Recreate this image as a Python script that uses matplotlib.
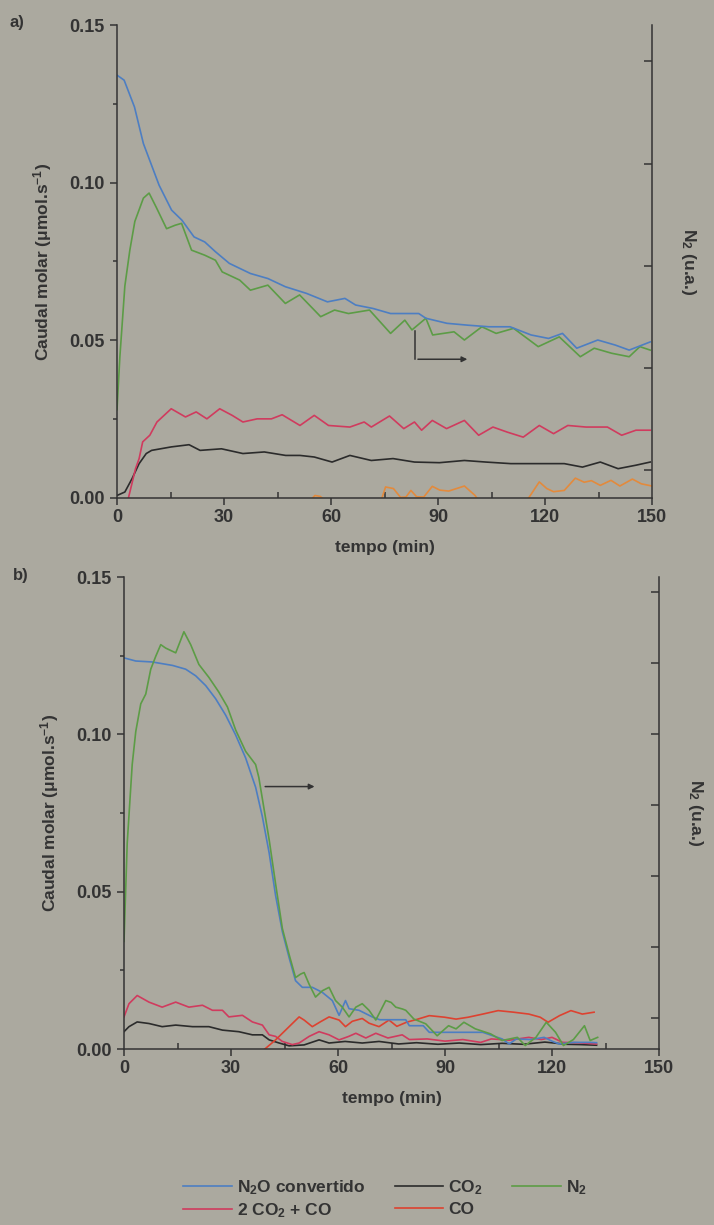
import matplotlib
matplotlib.use("Agg")
import matplotlib.pyplot as plt
from matplotlib.lines import Line2D
from matplotlib.ticker import MultipleLocator

plt.rcParams['font.family'] = ['Liberation Sans', 'DejaVu Sans']
plt.rcParams['font.weight'] = 'bold'
plt.rcParams['axes.labelweight'] = 'bold'
plt.rcParams['mathtext.fontset'] = 'custom'
plt.rcParams['mathtext.default'] = 'regular'

# ---- panel a) data (tempo em min, caudal molar em umol/s)
a_n2o_t = [0, 2.0, 4.9, 7.4, 11.8, 15.3, 18.2, 21.6, 24.6, 27.6, 31.5, 37.4, 42.3, 47.2,
           53.1, 59.0, 63.9, 66.9, 71.8, 76.7, 84.6, 86.6, 92.5, 98.4, 104.3, 110.2,
           116.1, 121.0, 124.9, 128.9, 134.8, 139.7, 143.6, 149.5]
a_n2o = [.1341, .1325, .1240, .1124, .0992, .0913, .0881, .0828, .0812, .0781, .0744,
         .0712, .0696, .0670, .0649, .0622, .0633, .0612, .0601, .0585, .0585, .0570,
         .0554, .0548, .0543, .0543, .0517, .0506, .0522, .0475, .0501, .0485, .0469, .0495]

a_n2_t = [0, 0.8, 2.2, 3.6, 5.0, 7.4, 9.0, 11.0, 13.9, 16.3, 18.1, 20.9, 24.6, 27.6, 29.5,
          34.4, 37.4, 42.3, 47.2, 51.2, 57.1, 61.0, 64.9, 70.8, 76.7, 80.7, 82.7, 86.6,
          88.5, 94.5, 97.4, 102.3, 106.3, 111.2, 118.1, 124.0, 129.9, 133.8, 138.7,
          143.6, 146.6, 149.5]
a_n2 = [.0280, .0447, .0672, .0786, .0877, .0951, .0967, .0922, .0854, .0865, .0871,
        .0786, .0770, .0754, .0717, .0691, .0659, .0675, .0617, .0644, .0575, .0596,
        .0585, .0596, .0522, .0564, .0533, .0570, .0517, .0527, .0501, .0543, .0522,
        .0538, .0480, .0511, .0448, .0475, .0459, .0448, .0480, .0469]

a_sum_t = [3.2, 5.2, 6.2, 7.2, 9.2, 11.2, 13.2, 15.2, 19.2, 22.2, 25.2, 28.8, 32.3, 35.3,
           39.3, 43.3, 46.3, 51.3, 55.3, 59.3, 65.3, 69.3, 71.3, 76.4, 80.4, 83.4, 85.4,
           88.4, 92.4, 97.4, 101.4, 105.4, 109.4, 113.9, 118.4, 122.4, 126.4, 131.5,
           137.5, 141.5, 145.5, 149.5]
a_sum = [0, .0093, .0125, .0178, .0199, .0241, .0262, .0283, .0257, .0273, .0251, .0283,
         .0262, .0241, .0251, .0251, .0264, .0230, .0262, .0230, .0225, .0241, .0225,
         .0260, .0220, .0241, .0215, .0246, .0220, .0246, .0199, .0225, .0209, .0193,
         .0230, .0204, .0230, .0225, .0225, .0199, .0215, .0215]

a_co2_t = [0, 2.2, 4.2, 6.2, 8.2, 9.7, 15.2, 20.2, 23.3, 29.3, 35.3, 41.3, 47.3, 51.3,
           55.3, 60.3, 65.3, 71.3, 77.4, 83.4, 90.4, 97.4, 103.4, 110.4, 117.4, 125.4,
           130.5, 135.5, 140.5, 145.5, 149.5]
a_co2 = [.0008, .0019, .0061, .0109, .0141, .0151, .0162, .0169, .0151, .0156, .0141,
         .0146, .0135, .0135, .0130, .0114, .0135, .0119, .0125, .0114, .0112, .0119,
         .0114, .0109, .0109, .0109, .0098, .0114, .0093, .0104, .0114]

a_co_t = [0, 50, 54, 55.5, 57, 58.5, 62, 74, 75.3, 77.5, 79.5, 81, 82.4, 84, 86, 88.4,
          90.5, 93, 97.4, 100.4, 102, 113, 115.4, 118.4, 120.5, 122.4, 125.4, 128.5,
          131, 133, 135.5, 138.5, 141, 144.5, 147, 150]
a_co = [-.003, -.003, -.001, .0008, .0005, -.001, -.003, -.001, .0035, .0030, .0002,
        .0003, .0024, .0004, .0003, .0037, .0025, .0022, .0038, .0008, -.002, -.002,
        .0000, .0051, .0030, .0020, .0024, .0063, .0050, .0055, .0040, .0056, .0038,
        .0060, .0045, .0038]

# ---- panel b) data
b_n2o_t = [0, 3.3, 7.9, 13.6, 17.3, 20.1, 22.9, 25.7, 28.5, 31.3, 34.1, 36.9, 38.8, 40.7,
           42.5, 44.4, 46.3, 48.1, 50.0, 52.8, 55.6, 58.4, 60.3, 62.1, 63.1, 65.9, 69.6,
           71.7, 79.0, 80.0, 83.9, 85.6, 100.6, 106.0, 108.0, 110.0, 114.0, 117.8, 120.0,
           122.0, 126.0, 130.7, 132.5]
b_n2o = [.1243, .1233, .1230, .1219, .1207, .1186, .1155, .1113, .1061, .0998, .0925,
         .0832, .0738, .0623, .0488, .0373, .0290, .0217, .0196, .0196, .0180, .0154,
         .0107, .0154, .0128, .0123, .0102, .0093, .0093, .0074, .0074, .0053, .0053,
         .0032, .0016, .0032, .0030, .0037, .0025, .0016, .0021, .0021, .0020]

b_n2_t = [0, 0.9, 2.3, 3.3, 4.7, 6.1, 7.5, 8.9, 10.3, 11.7, 14.5, 16.8, 18.7, 21.0, 23.8,
          26.6, 29.0, 31.3, 34.1, 36.9, 37.8, 40.7, 42.5, 44.4, 46.3, 48.1, 49.5, 50.5,
          51.9, 53.7, 55.6, 57.5, 59.3, 61.2, 63.1, 65.0, 66.8, 68.7, 70.6, 73.4, 74.9,
          76.2, 78.1, 79.0, 81.3, 84.6, 87.8, 91.0, 93.1, 95.3, 98.5, 102.8, 106.0,
          110.3, 112.5, 115.5, 118.4, 121.0, 123.2, 126.0, 129.1, 130.7, 132.8]
b_n2 = [.0342, .0654, .0904, .1009, .1097, .1128, .1207, .1248, .1285, .1274, .1259,
        .1326, .1285, .1222, .1181, .1134, .1087, .1014, .0946, .0904, .0863, .0665,
        .0525, .0383, .0300, .0227, .0238, .0243, .0206, .0165, .0185, .0196, .0154,
        .0133, .0102, .0133, .0144, .0123, .0092, .0154, .0148, .0133, .0127, .0123,
        .0095, .0080, .0042, .0074, .0064, .0085, .0064, .0048, .0027, .0037, .0011,
        .0037, .0085, .0053, .0011, .0030, .0074, .0027, .0037]

b_sum_t = [0, 1.4, 3.7, 7.0, 10.7, 14.5, 18.2, 22.0, 24.8, 27.6, 29.4, 33.2, 36.0, 38.8,
           40.7, 42.5, 44.4, 47.2, 49.1, 51.9, 54.7, 57.5, 60.3, 63.0, 65.0, 67.8, 70.6,
           74.0, 78.0, 80.0, 85, 90, 95, 100, 103, 108, 113.5, 117, 120, 123, 127, 132.5]
b_sum = [.0102, .0144, .0170, .0149, .0133, .0149, .0133, .0139, .0123, .0123, .0102,
         .0107, .0086, .0076, .0045, .0040, .0024, .0014, .0019, .0040, .0055, .0045,
         .0029, .0040, .0050, .0035, .0050, .0035, .0045, .0030, .0032, .0025, .0030,
         .0021, .0032, .0028, .0037, .0030, .0037, .0021, .0020, .0016]

b_co2_t = [0, 1.4, 3.7, 7.0, 10.7, 14.5, 19.2, 23.8, 27.6, 32.2, 36.0, 38.8, 40.7, 43.5,
           46.3, 50.5, 54.7, 57.5, 62, 66.8, 71.5, 77, 82, 88, 94, 100, 106, 112, 118,
           124, 128, 132.5]
b_co2 = [.0055, .0071, .0086, .0081, .0071, .0076, .0071, .0071, .0060, .0055, .0045,
         .0045, .0029, .0019, .0010, .0013, .0029, .0019, .0024, .0019, .0024, .0016,
         .0020, .0015, .0019, .0014, .0018, .0015, .0022, .0015, .0014, .0012]

b_co_t = [39.5, 42.5, 44.4, 47.2, 49.1, 50.5, 52.8, 55.0, 57.5, 60.3, 62.1, 64.0, 66.8,
          68.7, 71.5, 74.3, 76.5, 79.2, 82.4, 85.6, 89.9, 93.1, 96.5, 100.6, 104.9,
          109.2, 113.5, 116.7, 118.9, 122.1, 125.3, 128.5, 131.8]
b_co = [0, .0029, .0050, .0081, .0102, .0092, .0071, .0086, .0102, .0092, .0071, .0088,
        .0097, .0082, .0071, .0092, .0072, .0085, .0095, .0106, .0101, .0095, .0101,
        .0111, .0122, .0117, .0111, .0101, .0085, .0106, .0122, .0111, .0117]

bg = '#aba99f'
ink = '#333333'
c_blue = '#4d7ec2'
c_green = '#5c9c46'
c_pink = '#d03b5e'
c_black = '#2b2b2b'
c_orange = '#e38a3c'
c_red = '#dd4230'
lw = 1.2

fig = plt.figure(figsize=(7.14, 12.25), dpi=100, facecolor=bg)


def setup(ax, right_lim):
    ax.set_facecolor('none')
    ax.set_xlim(0, 150)
    ax.set_ylim(0, 0.15)
    ax.xaxis.set_major_locator(MultipleLocator(30))
    ax.xaxis.set_minor_locator(MultipleLocator(15))
    ax.yaxis.set_major_locator(MultipleLocator(0.05))
    ax.yaxis.set_minor_locator(MultipleLocator(0.025))
    ax.yaxis.set_major_formatter(lambda v, p: '%.2f' % v)
    ax.spines['top'].set_visible(False)
    ax.spines['right'].set_visible(False)
    for s in ['left', 'bottom']:
        ax.spines[s].set_color(ink)
        ax.spines[s].set_linewidth(1.1)
    ax.tick_params(axis='both', which='major', length=5, width=1.1, color=ink,
                   labelsize=13, labelcolor=ink)
    ax.tick_params(axis='y', which='major', pad=4)
    ax.tick_params(axis='x', which='major', pad=3)
    ax.tick_params(axis='y', which='minor', length=3, width=1.1, color=ink)
    ax.tick_params(axis='x', which='minor', direction='in', length=4, width=1.1, color=ink)
    ax.set_xlabel('tempo (min)', fontsize=12.5, color=ink, labelpad=10)
    ax.set_ylabel(r'Caudal molar ($\mu$mol.s$^{-1}$)', fontsize=12.5, color=ink, labelpad=11)
    tw = ax.twinx()
    tw.set_facecolor('none')
    tw.set_ylim(*right_lim)
    tw.yaxis.set_major_locator(MultipleLocator(1))
    tw.tick_params(axis='y', direction='in', length=6, width=1.1, color=ink, labelright=False)
    for s in ['top', 'left', 'bottom']:
        tw.spines[s].set_visible(False)
    tw.spines['right'].set_color(ink)
    tw.spines['right'].set_linewidth(1.1)
    tw.set_ylabel(r'N$_2$ (u.a.)', fontsize=12.5, color=ink, rotation=-90, labelpad=33)
    return ax


ax1 = setup(fig.add_axes([117 / 714, 1 - 498 / 1225, 535 / 714, 473 / 1225]), (-0.273, 4.357))
ax1.plot(a_co_t, a_co, color=c_orange, lw=lw)
ax1.plot(a_co2_t, a_co2, color=c_black, lw=lw)
ax1.plot(a_sum_t, a_sum, color=c_pink, lw=lw)
ax1.plot(a_n2_t, a_n2, color=c_green, lw=lw)
ax1.plot(a_n2o_t, a_n2o, color=c_blue, lw=lw)
ax1.plot([83.6, 83.6], [0.053, 0.044], color=ink, lw=1.1)
ax1.annotate('', xy=(99, 0.044), xytext=(83.6, 0.044),
             arrowprops=dict(arrowstyle='-|>', color=ink, lw=1.1, mutation_scale=8))

ax2 = setup(fig.add_axes([124 / 714, 1 - 1049 / 1225, 535 / 714, 472 / 1225]), (-0.44, 6.21))
ax2.plot(b_co2_t, b_co2, color=c_black, lw=lw)
ax2.plot(b_sum_t, b_sum, color=c_pink, lw=lw)
ax2.plot(b_co_t, b_co, color=c_red, lw=lw)
ax2.plot(b_n2o_t, b_n2o, color=c_blue, lw=lw)
ax2.plot(b_n2_t, b_n2, color=c_green, lw=lw)
ax2.annotate('', xy=(54.2, 0.0834), xytext=(38.8, 0.0834),
             arrowprops=dict(arrowstyle='-|>', color=ink, lw=1.1, mutation_scale=8))

fig.text(10 / 714, 1 - 22 / 1225, 'a)', fontsize=12, color=ink, va='center')
fig.text(13 / 714, 1 - 575 / 1225, 'b)', fontsize=12, color=ink, va='center')

handles = [Line2D([], [], color=c_blue, lw=lw), Line2D([], [], color=c_pink, lw=lw),
           Line2D([], [], color=c_black, lw=lw), Line2D([], [], color=c_red, lw=lw),
           Line2D([], [], color=c_green, lw=lw)]
labels = [r'N$_2$O convertido', r'2 CO$_2$ + CO', r'CO$_2$', 'CO', r'N$_2$']
fig.legend(handles, labels, ncol=3, loc='upper left', bbox_to_anchor=(183 / 714, 1 - 1178 / 1225),
           frameon=False, fontsize=12.5, handlelength=2.8, handletextpad=0.3,
           columnspacing=1.7, labelspacing=0.28, borderpad=0, borderaxespad=0,
           labelcolor=ink)

fig.savefig('out.png', dpi=100, facecolor=bg)
